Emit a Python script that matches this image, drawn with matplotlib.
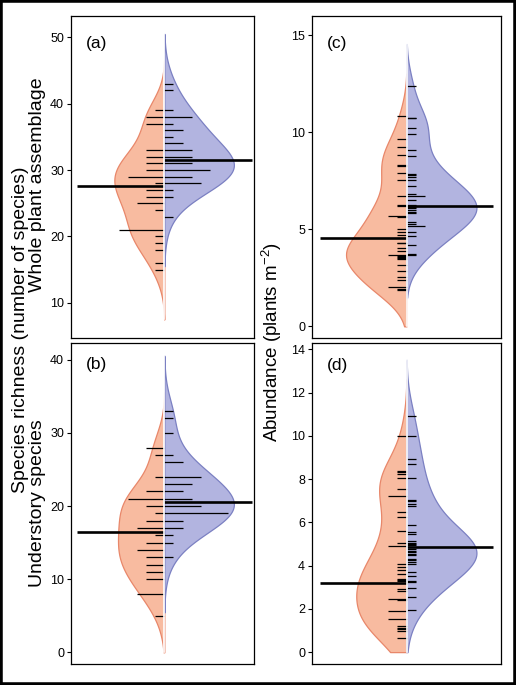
# split bean plots : richness (a,b) and abundance (c,d)
import numpy as np
from matplotlib import pyplot as plt
from matplotlib.patches import Rectangle

plt.rcParams['font.family'] = ['Liberation Sans', 'DejaVu Sans']
plt.rcParams['mathtext.default'] = 'regular'

# ---- values (left = orange, right = blue) ----
a_left = [39, 38, 38, 37, 37, 33, 33, 32, 32, 31, 31, 30, 30, 29, 29, 29, 29, 28,
          27, 27, 26, 26, 25, 25, 25, 24, 21, 21, 21, 21, 21, 20, 19, 18, 16, 15]
a_right = [43, 42, 39, 38, 38, 38, 37, 36, 36, 35, 34, 34, 33, 33, 33, 32, 32, 32,
           31, 31, 31, 30, 30, 30, 30, 30, 29, 29, 29, 28, 28, 28, 28, 27, 26, 23]
a_means = [27.6, 31.5]

b_left = [28, 28, 27, 24, 22, 22, 21, 21, 21, 21, 20, 20, 19, 18, 18, 17, 17, 17,
          16, 15, 15, 14, 14, 14, 13, 13, 12, 12, 11, 11, 10, 10, 8, 8, 8, 5]
b_right = [33, 32, 30, 27, 26, 26, 24, 24, 24, 24, 23, 23, 23, 22, 22, 21, 21, 21,
           20, 20, 20, 20, 19, 19, 19, 19, 19, 19, 19, 18, 18, 17, 17, 16, 15, 13]
b_means = [16.5, 20.5]

c_left = [10.84, 9.64, 9.24, 8.83, 8.33, 8.25, 7.9, 7.54, 6.71, 6.28, 6.2, 5.68,
          5.68, 5.65, 5.04, 4.85, 4.73, 4.32, 4.28, 4.04, 3.87, 3.7, 3.7, 3.64,
          3.58, 3.52, 3.46, 3.18, 2.87, 2.53, 2.39, 2.01, 2.01, 1.95, 1.88]
c_right = [12.37, 10.76, 10.72, 10.24, 9.9, 9.07, 8.78, 7.86, 7.78, 7.68, 7.57,
           7.26, 6.8, 6.71, 6.71, 6.54, 6.26, 6.2, 6.14, 6.08, 6.0, 5.92, 5.85,
           5.38, 5.3, 5.16, 5.16, 4.85, 4.68, 4.22, 3.75, 3.67]
c_means = [4.55, 6.2]

d_left = [10.0, 8.4, 8.34, 8.24, 8.06, 7.55, 7.24, 7.24, 6.49, 6.26, 5.59, 5.06,
          4.9, 4.9, 4.09, 3.93, 3.78, 3.62, 3.39, 3.33, 3.28, 2.9, 2.82, 2.47,
          2.47, 2.43, 1.88, 1.88, 1.54, 1.54, 1.2, 1.13, 1.06, 0.97, 0.63]
d_right = [10.9, 10.0, 8.94, 8.71, 8.06, 7.03, 6.97, 6.87, 6.75, 5.89, 5.55,
           5.47, 5.13, 5.06, 5.02, 4.95, 4.85, 4.78, 4.7, 4.62, 4.55, 4.5, 4.32,
           4.24, 4.16, 4.09, 3.72, 3.51, 3.3, 3.25, 2.98, 2.56, 1.93]
d_means = [3.22, 4.87]

orange_fill, orange_edge = '#F8BBA0', '#E8876A'
blue_fill, blue_edge = '#B2B4E0', '#7B80C2'


def kde(data, grid, bw):
    data = np.asarray(data, float)
    z = (grid[:, None] - data[None, :]) / bw
    return np.exp(-0.5 * z**2).sum(axis=1) / (len(data) * bw * np.sqrt(2 * np.pi))


def bean(ax, left, right, means, bw, cut, lo, half, mlen, ll=0.1):
    grids = []
    dens = []
    for d in (left, right):
        g = np.linspace(max(min(d) - cut * bw, lo), max(d) + cut * bw, 400)
        grids.append(g)
        dens.append(kde(d, g, bw))
    scale = half / max(dens[0].max(), dens[1].max())
    ax.fill_betweenx(grids[0], -dens[0] * scale, 0, facecolor=orange_fill,
                     edgecolor=orange_edge, linewidth=0.9, zorder=1)
    ax.fill_betweenx(grids[1], 0, dens[1] * scale, facecolor=blue_fill,
                     edgecolor=blue_edge, linewidth=0.9, zorder=1)
    # bean lines, longer where values repeat
    for d, sign in ((left, -1), (right, 1)):
        v, n = np.unique(d, return_counts=True)
        ax.hlines(v, 0, sign * n * ll, color='black', linewidth=0.9, zorder=2)
    # group means
    ax.hlines(means[0], -mlen, 0, color='black', linewidth=1.9, zorder=3)
    ax.hlines(means[1], 0, mlen, color='black', linewidth=1.9, zorder=3)
    top = max(grids[0].max(), grids[1].max())
    bot = min(grids[0].min(), grids[1].min())
    ax.plot([0, 0], [bot, top], color='white', linewidth=1.2, zorder=4)


fig = plt.figure(figsize=(5.16, 6.85), dpi=100)
W, H = 516, 685


def axes_px(x0, x1, y0, y1):
    return fig.add_axes([x0 / W, (H - y1) / H, (x1 - x0) / W, (y1 - y0) / H])


ax_a = axes_px(71, 254, 16, 338)
ax_b = axes_px(71, 254, 343, 664)
ax_c = axes_px(312, 501, 16, 338)
ax_d = axes_px(312, 501, 343, 664)

bean(ax_a, a_left, a_right, a_means, bw=3.0, cut=2.5, lo=-100, half=0.76, mlen=0.955)
bean(ax_b, b_left, b_right, b_means, bw=2.8, cut=2.7, lo=0, half=0.76, mlen=0.955)
bean(ax_c, c_left, c_right, c_means, bw=0.95, cut=2.3, lo=0, half=0.74, mlen=0.92)
bean(ax_d, d_left, d_right, d_means, bw=1.05, cut=2.5, lo=0, half=0.74, mlen=0.92)

setup = [(ax_a, (4.7, 53.2), [10, 20, 30, 40, 50], (-1.02, 0.98), '(a)', 0.915),
         (ax_b, (-1.6, 42.3), [0, 10, 20, 30, 40], (-1.02, 0.98), '(b)', 0.932),
         (ax_c, (-0.6, 16.0), [0, 5, 10, 15], (-1, 1), '(c)', 0.915),
         (ax_d, (-0.55, 14.3), [0, 2, 4, 6, 8, 10, 12, 14], (-1, 1), '(d)', 0.93)]
for ax, ylim, ticks, xlim, lab, ty in setup:
    ax.set_ylim(ylim)
    ax.set_xlim(xlim)
    ax.set_yticks(ticks)
    ax.set_xticks([])
    ax.tick_params(axis='y', direction='out', length=3, width=0.8,
                   labelsize=9, pad=2)
    for s in ax.spines.values():
        s.set_linewidth(0.9)
    ax.text(0.08, ty, lab, transform=ax.transAxes, fontsize=12.5, va='center')

fig.text(21 / W, 1 - 330 / H, 'Species richness (number of species)',
         rotation=90, ha='center', va='center', fontsize=14)
fig.text(38 / W, 1 - 185 / H, 'Whole plant assemblage',
         rotation=90, ha='center', va='center', fontsize=14)
fig.text(38 / W, 1 - 503 / H, 'Understory species',
         rotation=90, ha='center', va='center', fontsize=14)
fig.text(272 / W, 1 - 342 / H, 'Abundance (plants m$^{-2}$)',
         rotation=90, ha='center', va='center', fontsize=13.5)

# frame round the whole figure
fig.patches.append(Rectangle((0, 0), 1, 1, transform=fig.transFigure,
                             fill=False, edgecolor='black', linewidth=4))

fig.savefig('out.png', dpi=100)
